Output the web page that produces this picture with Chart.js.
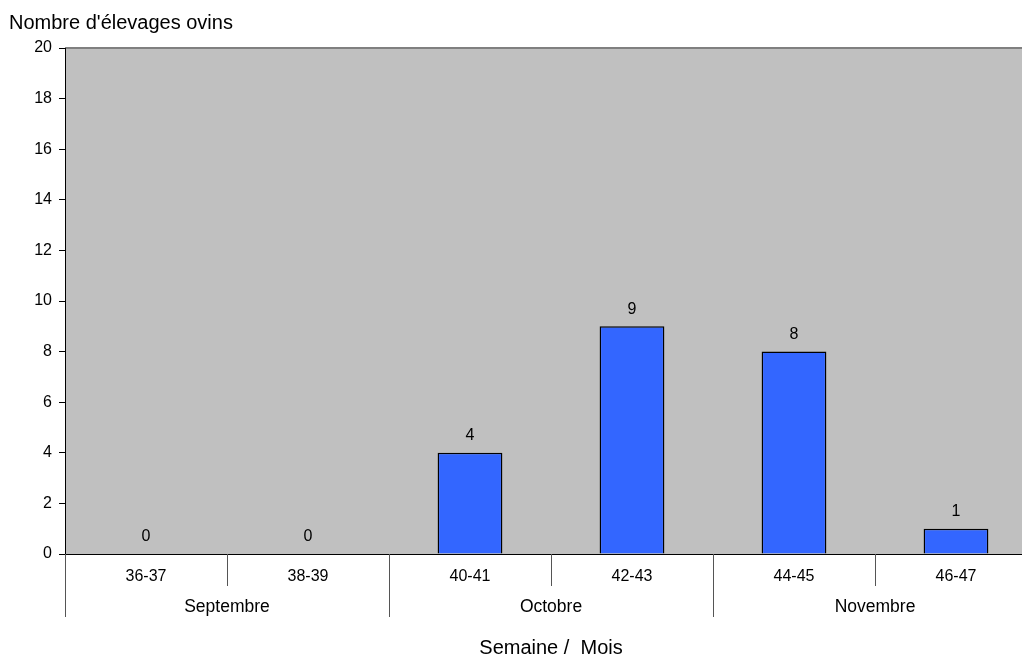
<!DOCTYPE html>
<html>
<head>
<meta charset="utf-8">
<script src="https://cdn.jsdelivr.net/npm/chart.js@4"></script>
<style>
  body { margin: 0; overflow: hidden; background: #fff; }
  #wrap { width: 1040px; height: 656px; }
</style>
</head>
<body>
<div id="wrap"><canvas id="graph"></canvas></div>
<script>
var weeks = ["36-37", "38-39", "40-41", "42-43", "44-45", "46-47"];
var cases = [0, 0, 4, 9, 8, 1];
var months = ["Septembre", "Octobre", "Novembre"];
var weeksPerMonth = [2, 2, 2];
var yMax = 20;
var yStep = 2;

var FONT = "'Liberation Sans', Arial, sans-serif";

// fond gris + textes + separateurs
var decor = {
  id: "decor",
  beforeDraw: function (chart) {
    var c = chart.ctx, a = chart.chartArea;
    c.save();
    c.fillStyle = "#C0C0C0";
    c.fillRect(a.left, a.top, a.right - a.left, a.bottom - a.top);
    c.strokeStyle = "#808080";
    c.lineWidth = 2;
    c.beginPath();
    c.moveTo(a.left, a.top);
    c.lineTo(a.right, a.top);
    c.stroke();
    c.restore();
  },
  afterDraw: function (chart) {
    var c = chart.ctx, a = chart.chartArea;
    var x = chart.scales.x;
    c.save();
    c.strokeStyle = "#555";
    c.lineWidth = 1;
    // separateurs semaines
    var idx = 0, monthStarts = [0];
    for (var m = 0; m < weeksPerMonth.length; m++) {
      idx += weeksPerMonth[m];
      monthStarts.push(idx);
    }
    for (var i = 0; i <= weeks.length; i++) {
      var px = Math.round(x.getPixelForValue(i - 0.5)) + 0.5;
      var isMonth = monthStarts.indexOf(i) >= 0;
      c.beginPath();
      c.moveTo(px, a.bottom);
      c.lineTo(px, isMonth ? a.bottom + 63 : a.bottom + 32);
      c.stroke();
    }
    c.fillStyle = "#000";
    c.font = "17.5px " + FONT;
    c.textAlign = "center";
    c.textBaseline = "middle";
    // mois
    for (var m = 0; m < months.length; m++) {
      var x0 = x.getPixelForValue(monthStarts[m] - 0.5);
      var x1 = x.getPixelForValue(monthStarts[m + 1] - 0.5);
      c.fillText(months[m], (x0 + x1) / 2, a.bottom + 53);
    }
    // valeurs au-dessus des barres
    c.font = "16px " + FONT;
    var meta = chart.getDatasetMeta(0);
    meta.data.forEach(function (bar, i) {
      c.fillText(String(cases[i]), bar.x, bar.y - 17);
    });
    // titres
    c.font = "20px " + FONT;
    c.fillText("Semaine /  Mois", (a.left + a.right) / 2, 648);
    c.textAlign = "left";
    c.fillText("Nombre d'\u00e9levages ovins", 9, 23);
    c.restore();
  }
};

var ctx = document.getElementById("graph").getContext("2d");
var myChart = new Chart(ctx, {
  type: "bar",
  data: {
    labels: weeks,
    datasets: [
      {
        data: cases,
        backgroundColor: "#3366FF",
        borderColor: "#000000",
        borderWidth: 1.5,
        categoryPercentage: 1,
        barPercentage: 0.4,
      },
    ],
  },
  options: {
    responsive: true,
    maintainAspectRatio: false,
    animation: false,
    layout: { padding: { top: 48, right: 3, left: 0, bottom: 0 } },
    plugins: {
      legend: { display: false },
      tooltip: { enabled: false },
    },
    scales: {
      x: {
        grid: { display: false },
        border: { display: true, color: "#000", width: 1 },
        ticks: {
          color: "#000",
          font: { size: 16, family: FONT },
          padding: 5,
          maxRotation: 0,
        },
        afterFit: function (scale) {
          scale.height = 102;
        },
      },
      y: {
        min: 0,
        max: yMax,
        grid: {
          drawOnChartArea: false,
          drawTicks: true,
          tickLength: 6,
          color: "#000",
        },
        border: { display: true, color: "#000", width: 1 },
        ticks: {
          stepSize: yStep,
          color: "#000",
          font: { size: 16, family: FONT },
          padding: 7,
        },
        afterFit: function (scale) {
          scale.width = 65;
        },
      },
    },
  },
  plugins: [decor],
});
</script>
</body>
</html>
